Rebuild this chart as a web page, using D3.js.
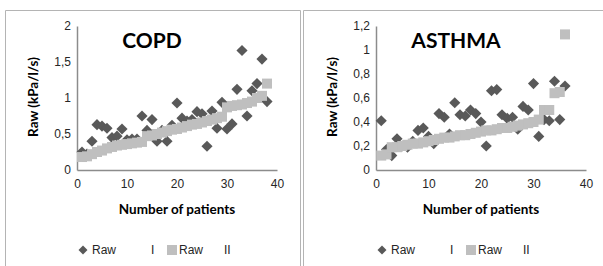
<!DOCTYPE html>
<html>
<head>
<meta charset="utf-8">
<script src="https://cdn.jsdelivr.net/npm/d3@7"></script>
<style>
  body { margin: 0; background: #fff; }
  svg { display: block; }
  .tick text { font-family: "Liberation Sans", Arial, sans-serif; font-size: 12px; fill: #262626; }
  .title { font-family: Lato, "Open Sans", sans-serif; font-weight: bold; font-size: 21px; fill: #000; }
  .axis-title { font-family: Lato, "Open Sans", sans-serif; font-weight: bold; font-size: 13.5px; fill: #000; }
  .legend text { font-family: "Liberation Sans", Arial, sans-serif; font-size: 12px; fill: #262626; }
</style>
</head>
<body>
<svg width="603" height="266"></svg>
<script>
var width = 603,
    height = 266;

// x = patient number
var copdRawI = [0.25, 0.22, 0.40, 0.63, 0.61, 0.58, 0.45, 0.47, 0.57, 0.42,
                0.43, 0.43, 0.75, 0.55, 0.70, 0.40, 0.55, 0.40, 0.62, 0.93,
                0.72, 0.68, 0.70, 0.81, 0.78, 0.33, 0.82, 0.58, 0.94, 0.57,
                0.64, 1.12, 1.66, 0.75, 1.10, 1.20, 1.54, 0.95];
var copdRawII = [0.18, 0.19, 0.22, 0.25, 0.27, 0.30, 0.32, 0.34, 0.35, 0.36,
                 0.37, 0.38, 0.39, 0.47, 0.48, 0.50, 0.52, 0.54, 0.56, 0.57,
                 0.59, 0.61, 0.63, 0.64, 0.66, 0.68, 0.70, 0.72, 0.74, 0.87,
                 0.89, 0.90, 0.91, 0.93, 0.95, 1.00, 1.03, 1.20];

var asthmaRawI = [0.41, 0.17, 0.12, 0.26, 0.20, 0.19, 0.24, 0.33, 0.35, 0.28,
                  0.22, 0.47, 0.44, 0.30, 0.56, 0.46, 0.45, 0.50, 0.47, 0.40,
                  0.20, 0.66, 0.67, 0.46, 0.43, 0.44, 0.34, 0.53, 0.50, 0.72,
                  0.28, 0.42, 0.41, 0.74, 0.42, 0.70];
var asthmaRawII = [0.12, 0.13, 0.19, 0.19, 0.20, 0.21, 0.22, 0.22, 0.23, 0.24,
                   0.25, 0.26, 0.27, 0.27, 0.28, 0.29, 0.29, 0.30, 0.31, 0.32,
                   0.33, 0.33, 0.34, 0.35, 0.35, 0.36, 0.37, 0.38, 0.39, 0.40,
                   0.42, 0.50, 0.50, 0.64, 0.65, 1.13];

var xTicks = [0, 10, 20, 30, 40];
var copdYTicks = [0, 0.5, 1, 1.5, 2];
var asthmaYTicks = [0, 0.2, 0.4, 0.6, 0.8, 1, 1.2];

var seriesNames = ["Raw I", "Raw II"];
var diamondColor = "#595959",
    squareColor = "#bfbfbf",
    frameColor = "#b4b4b4",
    axisColor = "#8c8c8c";

var svg = d3.select("svg")
    .attr("width", width)
    .attr("height", height);

// panel frames
svg.append("path")
    .attr("d", "M5.5,266V10.5H300.5V266")
    .attr("fill", "none")
    .attr("stroke", frameColor);
svg.append("path")
    .attr("d", "M303.5,266V10.5H603")
    .attr("fill", "none")
    .attr("stroke", frameColor);

var comma = function(d) { return String(d).replace(".", ","); };
var diamond = d3.symbol().type(d3.symbolSquare).size(62);

function drawPanel(opts) {
  var x = d3.scaleLinear().domain([0, 40]).range([opts.left, opts.right]);
  var y = d3.scaleLinear().domain([0, opts.yMax]).range([170, 26]);

  var g = svg.append("g");

  g.append("g")
      .attr("transform", "translate(0,170)")
      .call(d3.axisBottom(x).tickValues(xTicks).tickSize(0).tickPadding(9))
      .call(function(a) { a.select(".domain").attr("stroke", axisColor).attr("stroke-width", 1.5); });

  g.append("g")
      .attr("transform", "translate(" + opts.left + ",0)")
      .call(d3.axisLeft(y).tickValues(opts.yTicks).tickFormat(comma).tickSize(0).tickPadding(6))
      .call(function(a) { a.select(".domain").attr("stroke", axisColor).attr("stroke-width", 1.5); });

  g.selectAll(".tick text").attr("font-family", null).attr("font-size", null);

  g.append("g").selectAll("path")
      .data(opts.rawI)
    .enter().append("path")
      .attr("d", diamond)
      .attr("fill", diamondColor)
      .attr("transform", function(d, i) {
        return "translate(" + x(i + 1) + "," + y(d) + ") rotate(45)";
      });

  g.append("g").selectAll("rect")
      .data(opts.rawII)
    .enter().append("rect")
      .attr("x", function(d, i) { return x(i + 1) - 5; })
      .attr("y", function(d) { return y(d) - 5; })
      .attr("width", 10)
      .attr("height", 10)
      .attr("fill", squareColor);

  g.append("text")
      .attr("class", "title")
      .attr("x", opts.titleX)
      .attr("y", 48)
      .attr("text-anchor", "middle")
      .text(opts.title);

  g.append("text")
      .attr("class", "axis-title")
      .attr("transform", "translate(" + (opts.left - 39) + ",97) rotate(-90)")
      .attr("text-anchor", "middle")
      .text("Raw (kPa/l/s)");

  g.append("text")
      .attr("class", "axis-title")
      .attr("x", (opts.left + opts.right) / 2)
      .attr("y", 214)
      .attr("text-anchor", "middle")
      .text("Number of patients");

  // legend
  var lg = g.append("g").attr("class", "legend").attr("transform", "translate(" + (opts.left + 6) + ",250)");
  lg.append("path")
      .attr("d", d3.symbol().type(d3.symbolSquare).size(40))
      .attr("transform", "rotate(45)")
      .attr("fill", diamondColor);
  lg.append("text").attr("x", 9).attr("y", 4).text(seriesNames[0].split(" ")[0]);
  lg.append("text").attr("x", 68).attr("y", 4).text(seriesNames[0].split(" ")[1]);
  lg.append("rect")
      .attr("x", 84).attr("y", -5)
      .attr("width", 10).attr("height", 10)
      .attr("fill", squareColor);
  lg.append("text").attr("x", 96).attr("y", 4).text(seriesNames[1].split(" ")[0]);
  lg.append("text").attr("x", 141).attr("y", 4).text(seriesNames[1].split(" ")[1]);
}

drawPanel({ left: 77, right: 277, yMax: 2, yTicks: copdYTicks,
            rawI: copdRawI, rawII: copdRawII, title: "COPD", titleX: 152 });
drawPanel({ left: 376, right: 586, yMax: 1.2, yTicks: asthmaYTicks,
            rawI: asthmaRawI, rawII: asthmaRawII, title: "ASTHMA", titleX: 456 });
</script>
</body>
</html>
